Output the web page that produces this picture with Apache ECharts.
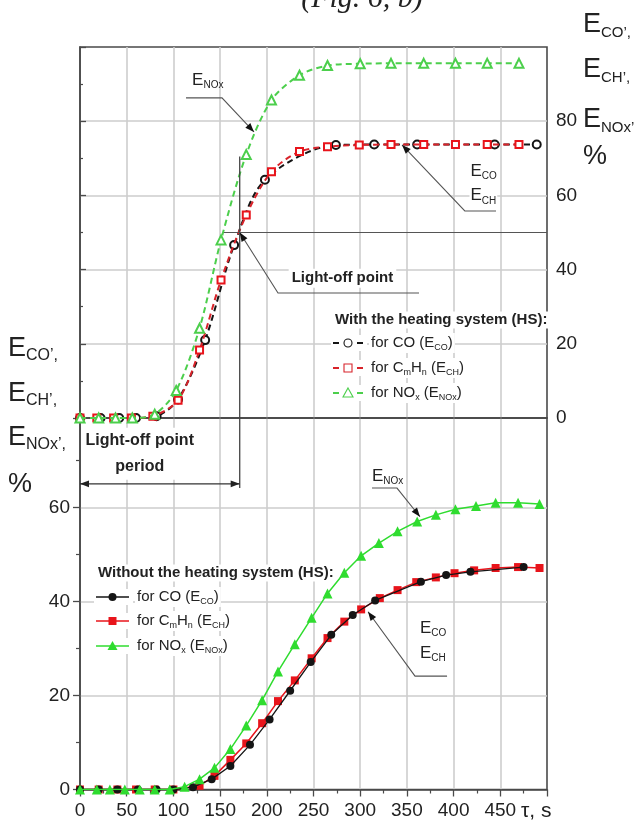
<!DOCTYPE html>
<html>
<head>
<meta charset="utf-8">
<script src="https://cdn.jsdelivr.net/npm/echarts@6/dist/echarts.min.js"></script>
<style>
  html, body { margin: 0; padding: 0; background: #fff; }
  #chart { width: 635px; height: 825px; }
</style>
</head>
<body>
<div id="chart"></div>
<script>
// ---- time axis (s) ----
const timeMax = 500;
const timeTickStep = 50;

// ---- conversion efficiency WITH the heating system (%) ----
const hsCO_t  = [0, 22, 42, 60, 82, 105, 134, 165, 198, 274, 315, 361, 444, 489];
const hsCO_v  = [0, 0, 0, 0, 0.5, 5, 21, 46.6, 64.2, 73.6, 73.7, 73.7, 73.7, 73.7];
const hsCH_t  = [0, 18, 36, 55, 78, 105, 128, 151, 178, 205, 235, 265, 299, 333, 368, 402, 436, 470];
const hsCH_v  = [0, 0, 0, 0, 0.5, 4.8, 18.3, 37.2, 54.7, 66.4, 71.8, 73.1, 73.6, 73.7, 73.7, 73.7, 73.7, 73.7];
const hsNOx_t = [0, 20, 38, 56, 80, 103, 128, 151, 178, 205, 235, 265, 300, 333, 368, 402, 436, 470];
const hsNOx_v = [0, 0, 0, 0, 1, 7.4, 24.2, 48, 71, 85.7, 92.4, 95, 95.5, 95.6, 95.6, 95.6, 95.6, 95.6];

// ---- conversion efficiency WITHOUT the heating system (%) ----
const noCO_t  = [0, 20, 40, 62, 82, 100, 121, 141, 161, 182, 203, 225, 247, 269, 292, 316, 365, 392, 418, 475];
const noCO_v  = [0, 0, 0, 0, 0, 0, 0.5, 2.2, 5, 9.5, 14.9, 21, 27.1, 32.9, 37.1, 40.2, 44.2, 45.6, 46.3, 47.3];
const noCH_t  = [0, 20, 40, 60, 80, 100, 128, 144, 161, 178, 195, 212, 230, 248, 265, 283, 301, 321, 340, 360, 381, 401, 422, 445, 469, 492];
const noCH_v  = [0, 0, 0, 0, 0, 0, 0.8, 2.9, 6.3, 9.8, 14.1, 18.8, 23.2, 27.9, 32.2, 35.7, 38.3, 40.7, 42.4, 44.1, 45.1, 46, 46.6, 47.1, 47.3, 47.1];
const noNOx_t = [0, 18, 32, 48, 64, 80, 96, 112, 128, 144, 161, 178, 195, 212, 230, 248, 265, 283, 301, 320, 340, 361, 381, 402, 424, 445, 469, 492];
const noNOx_v = [0, 0, 0, 0, 0, 0, 0, 0.6, 2.2, 4.6, 8.6, 13.6, 19, 25.1, 30.9, 36.5, 41.7, 46.1, 49.7, 52.4, 54.9, 57, 58.4, 59.6, 60.3, 61, 61, 60.7];

// ---- light-off point (time s, efficiency %) ----
const lightOffTime = 171;
const lightOffValue = 50;

const pairs = (t, v) => t.map((x, i) => [x, v[i]]);

const FF = "'Liberation Sans',Arial,sans-serif";
const INK = '#222';
const FRAME = '#4a4a4a';
const GRID = '#cdcdcd';
const RED = '#e8141b';
const GREEN = '#2fdc2f';
const GREEN_D = '#4ccf4c';
const BLACK = '#151515';

const chart = echarts.init(document.getElementById('chart'), null, { renderer: 'canvas' });

const splitLine = { show: true, showMinLine: false, showMaxLine: false, lineStyle: { color: GRID, width: 1.6 } };
const tickFont = { fontSize: 19, fontFamily: FF, color: INK };

const option = {
  animation: false,
  backgroundColor: '#fff',
  grid: [
    { left: 80, right: 88, top: 47, height: 371, show: true, borderColor: FRAME, borderWidth: 1.6, backgroundColor: 'transparent' },
    { left: 80, right: 88, top: 418, height: 371.5, show: true, borderColor: FRAME, borderWidth: 1.6, backgroundColor: 'transparent' }
  ],
  xAxis: [
    { gridIndex: 0, type: 'value', min: 0, max: timeMax, interval: timeTickStep,
      axisLine: { show: true, onZero: false, lineStyle: { color: FRAME, width: 1.6 } },
      axisTick: { show: false }, axisLabel: { show: false }, splitLine },
    { gridIndex: 1, type: 'value', min: 0, max: timeMax, interval: timeTickStep,
      axisLine: { show: true, onZero: false, lineStyle: { color: FRAME, width: 1.6 } },
      axisTick: { show: true, length: 7, lineStyle: { color: FRAME, width: 1.3 } },
      minorTick: { show: true, splitNumber: 2, length: 4, lineStyle: { color: FRAME, width: 1.2 } },
      axisLabel: Object.assign({ show: true, margin: 12, formatter: v => (v < 500 ? String(v) : '') }, tickFont),
      splitLine }
  ],
  yAxis: [
    { gridIndex: 0, type: 'value', position: 'right', min: 0, max: 100, interval: 20,
      axisLine: { show: true, lineStyle: { color: FRAME, width: 1.6 } },
      axisTick: { show: true, length: 6, lineStyle: { color: FRAME, width: 1.3 } },
      minorTick: { show: true, splitNumber: 2, length: 3, lineStyle: { color: FRAME, width: 1.2 } },
      axisLabel: Object.assign({ show: true, margin: 9, formatter: v => (v < 100 ? String(v) : '') }, tickFont),
      splitLine },
    { gridIndex: 1, type: 'value', position: 'left', min: 0, max: 79, interval: 20,
      axisLine: { show: true, lineStyle: { color: FRAME, width: 1.6 } },
      axisTick: { show: true, length: 7, lineStyle: { color: FRAME, width: 1.3 } },
      minorTick: { show: true, splitNumber: 2, length: 4, lineStyle: { color: FRAME, width: 1.2 } },
      axisLabel: Object.assign({ show: true, margin: 10, formatter: v => (v % 20 === 0 ? String(v) : '') }, tickFont),
      splitLine }
  ],
  series: [
    // with heating system: dashed lines, hollow markers
    { name: 'HS CO', type: 'line', xAxisIndex: 0, yAxisIndex: 0, data: pairs(hsCO_t, hsCO_v),
      smooth: 0.3, symbol: 'emptyCircle', symbolSize: 8, z: 3,
      itemStyle: { color: BLACK, borderWidth: 1.1 },
      lineStyle: { color: BLACK, width: 2, type: [6, 4] } },
    { name: 'HS CH', type: 'line', xAxisIndex: 0, yAxisIndex: 0, data: pairs(hsCH_t, hsCH_v),
      smooth: 0.3, symbol: 'emptyRect', symbolSize: 7, z: 4,
      itemStyle: { color: RED, borderWidth: 1.1 },
      lineStyle: { color: '#d8232a', width: 2, type: [6, 4] } },
    { name: 'HS NOx', type: 'line', xAxisIndex: 0, yAxisIndex: 0, data: pairs(hsNOx_t, hsNOx_v),
      smooth: 0.3, symbol: 'emptyTriangle', symbolSize: 9, z: 5,
      itemStyle: { color: GREEN_D, borderWidth: 1.1 },
      lineStyle: { color: GREEN_D, width: 2, type: [6, 4] } },
    // without heating system: solid lines, filled markers
    { name: 'CH', type: 'line', xAxisIndex: 1, yAxisIndex: 1, data: pairs(noCH_t, noCH_v),
      symbol: 'rect', symbolSize: 8, z: 3,
      itemStyle: { color: RED }, lineStyle: { color: RED, width: 1.5 } },
    { name: 'CO', type: 'line', xAxisIndex: 1, yAxisIndex: 1, data: pairs(noCO_t, noCO_v),
      symbol: 'circle', symbolSize: 8, z: 4,
      itemStyle: { color: BLACK }, lineStyle: { color: BLACK, width: 1.3 } },
    { name: 'NOx', type: 'line', xAxisIndex: 1, yAxisIndex: 1, data: pairs(noNOx_t, noNOx_v),
      symbol: 'triangle', symbolSize: 10, z: 5,
      itemStyle: { color: GREEN }, lineStyle: { color: GREEN, width: 1.5 } }
  ]
};

chart.setOption(option);

// ---------- annotations, legends and axis titles ----------
const pTop = (t, v) => chart.convertToPixel({ xAxisIndex: 0, yAxisIndex: 0 }, [t, v]);
const pBot = (t, v) => chart.convertToPixel({ xAxisIndex: 1, yAxisIndex: 1 }, [t, v]);

const g = [];
const ANN = '#555';

function poly(points, color, width, z) {
  g.push({ type: 'polyline', z: z || 20, shape: { points },
    style: { stroke: color || ANN, lineWidth: width || 1.2, fill: null } });
}
function arrowHead(tip, from, size, color) {
  const dx = tip[0] - from[0], dy = tip[1] - from[1];
  const L = Math.hypot(dx, dy), ux = dx / L, uy = dy / L;
  const bx = tip[0] - ux * size, by = tip[1] - uy * size;
  const w = size * 0.38;
  g.push({ type: 'polygon', z: 21, shape: { points: [tip, [bx - uy * w, by + ux * w], [bx + uy * w, by - ux * w]] },
    style: { fill: color || '#111' } });
}

const rich = {
  e:  { fontSize: 17, fontFamily: FF, color: INK, lineHeight: 20 },
  s:  { fontSize: 10, fontFamily: FF, color: INK, lineHeight: 9, verticalAlign: 'bottom' },
  t:  { fontSize: 15, fontFamily: FF, color: INK, lineHeight: 18 },
  ts: { fontSize: 9,  fontFamily: FF, color: INK, lineHeight: 8, verticalAlign: 'bottom' },
  E:  { fontSize: 27, fontFamily: FF, color: INK, lineHeight: 30 },
  S:  { fontSize: 16, fontFamily: FF, color: INK, lineHeight: 12, verticalAlign: 'bottom' },
  R:  { fontSize: 15, fontFamily: FF, color: INK, lineHeight: 12, verticalAlign: 'bottom' }
};
function text(x, y, str, opts) {
  g.push({ type: 'text', z: 22, x, y,
    style: Object.assign({ text: str, rich, fontFamily: FF, fill: INK, verticalAlign: 'middle', align: 'left' }, (opts && opts.style) || {}) });
}

// light-off point construction
const lo = pTop(lightOffTime, lightOffValue);
const loTopEnd = pTop(lightOffTime, 70.5);
const loBotEnd = pBot(lightOffTime, 64.1);
poly([loTopEnd, loBotEnd], '#444', 1.3);
poly([pTop(154, lightOffValue), pTop(timeMax, lightOffValue)], '#555', 1.1);
const loElbow = pTop(212, 33.7);
poly([lo, loElbow, pTop(363, 33.7)], ANN, 1.1);
arrowHead(lo, loElbow, 9);
const lt = pTop(281, 37.7);
text(lt[0], lt[1], 'Light-off point',
  { style: { align: 'center', fontSize: 15, fontWeight: 'bold', backgroundColor: '#fff', padding: [2, 3] } });

// light-off period double arrow
const pa = pBot(0, 65), pb = pBot(lightOffTime, 65);
poly([pa, pb], '#333', 1.2);
arrowHead(pa, pb, 9, '#222');
arrowHead(pb, pa, 9, '#222');
const pt = pBot(64, 71.4);
text(pt[0], pt[1], 'Light-off point\nperiod',
  { style: { align: 'center', fontSize: 16, fontWeight: 'bold', lineHeight: 26, backgroundColor: '#fff', padding: [0, 2] } });

// E_NOx, upper panel
const n1 = pTop(113.5, 86.3), n2 = pTop(152, 86.3), n3 = pTop(186.3, 77.1);
poly([n1, n2, n3], ANN, 1.1);
arrowHead(n3, n2, 9);
const nt = pTop(120, 91);
text(nt[0], nt[1], '{e|E}{s|NOx}');

// E_CO / E_CH, upper panel
const c1 = pTop(344.8, 73.6), c2 = pTop(412, 55.8), c3 = pTop(445.4, 55.8);
poly([c1, c2, c3], ANN, 1.1);
arrowHead(c1, c2, 9);
const ct1 = pTop(417, 66.6), ct2 = pTop(417, 59.9);
text(ct1[0], ct1[1], '{e|E}{s|CO}', { style: { backgroundColor: '#fff', padding: [0, 1] } });
text(ct2[0], ct2[1], '{e|E}{s|CH}', { style: { backgroundColor: '#fff', padding: [0, 1] } });

// E_NOx, lower panel
const m1 = pBot(312.6, 64.1), m2 = pBot(339.4, 64.1), m3 = pBot(364, 58.0);
poly([m1, m2, m3], ANN, 1.1);
arrowHead(m3, m2, 9);
const mt = pBot(312.6, 66.6);
text(mt[0], mt[1], '{e|E}{s|NOx}');

// E_CO / E_CH, lower panel
const k1 = pBot(308.4, 37.8), k2 = pBot(358.7, 24.1), k3 = pBot(393, 24.1);
poly([k1, k2, k3], ANN, 1.1);
arrowHead(k1, k2, 9);
const kt1 = pBot(364, 34.3), kt2 = pBot(364, 29);
text(kt1[0], kt1[1], '{e|E}{s|CO}');
text(kt2[0], kt2[1], '{e|E}{s|CH}');

// legends
function legendBlock(x0, yTitle, rows, title, dashed, symW) {
  text(x0, yTitle, title, { style: { fontSize: 15, fontWeight: 'bold', backgroundColor: '#fff', padding: [1, 2] } });
  rows.forEach(r => {
    const y = r.y;
    g.push({ type: 'rect', z: 19, shape: { x: x0 - 2, y: y - 8, width: symW + 6, height: 16 }, style: { fill: '#fff' } });
    g.push({ type: 'line', z: 20, shape: { x1: x0, y1: y, x2: x0 + symW, y2: y },
      style: { stroke: r.color, lineWidth: dashed ? 2 : 1.6, lineDash: dashed ? [6, 6] : null } });
    const cx = x0 + symW / 2;
    const fill = dashed ? '#fff' : r.color;
    const lw = dashed ? 1.1 : 0;
    if (r.sym === 'circle') g.push({ type: 'circle', z: 21, shape: { cx, cy: y, r: 4 }, style: { fill, stroke: r.color, lineWidth: lw } });
    if (r.sym === 'rect') g.push({ type: 'rect', z: 21, shape: { x: cx - 4, y: y - 4, width: 8, height: 8 }, style: { fill, stroke: r.color, lineWidth: lw } });
    if (r.sym === 'triangle') g.push({ type: 'polygon', z: 21, shape: { points: [[cx, y - 5], [cx + 5, y + 4], [cx - 5, y + 4]] }, style: { fill, stroke: r.color, lineWidth: lw } });
    text(x0 + symW + 6, y, r.label, { style: { backgroundColor: '#fff', padding: [1, 2] } });
  });
}
const lblCO = '{t|for CO (E}{ts|CO}{t|)}';
const lblCH = '{t|for C}{ts|m}{t|H}{ts|n}{t| (E}{ts|CH}{t|)}';
const lblNOx = '{t|for NO}{ts|x}{t| (E}{ts|NOx}{t|)}';
legendBlock(333, 320, [
  { y: 343, color: BLACK, sym: 'circle', label: lblCO },
  { y: 368, color: '#d8232a', sym: 'rect', label: lblCH },
  { y: 393, color: GREEN_D, sym: 'triangle', label: lblNOx }
], 'With the heating system (HS):', true, 30);
legendBlock(96, 573, [
  { y: 597, color: BLACK, sym: 'circle', label: lblCO },
  { y: 621, color: RED, sym: 'rect', label: lblCH },
  { y: 646, color: GREEN, sym: 'triangle', label: lblNOx }
], 'Without the heating system (HS):', false, 33);

// axis titles
[['{E|E}{R|CO’,}', 25], ['{E|E}{R|CH’,}', 70], ['{E|E}{R|NOx’,}', 120], ['{E|%}', 157]]
  .forEach(([s, y]) => text(583, y, s));
[['{E|E}{S|CO’,}', 349], ['{E|E}{S|CH’,}', 394], ['{E|E}{S|NOx’,}', 438], ['{E|%}', 485]]
  .forEach(([s, y]) => text(8, y, s));
text(521, 811, 'τ, s', { style: { fontSize: 21, fontFamily: FF } });

// figure caption, running off the top edge
g.push({ type: 'text', z: 22, x: 362, y: -1,
  style: { text: '(Fig. 6, b)', fontFamily: "'Liberation Serif',serif", fontStyle: 'italic', fontSize: 30,
    fill: '#222', align: 'center', verticalAlign: 'middle' } });

chart.setOption({ graphic: { elements: g } });
</script>
</body>
</html>
